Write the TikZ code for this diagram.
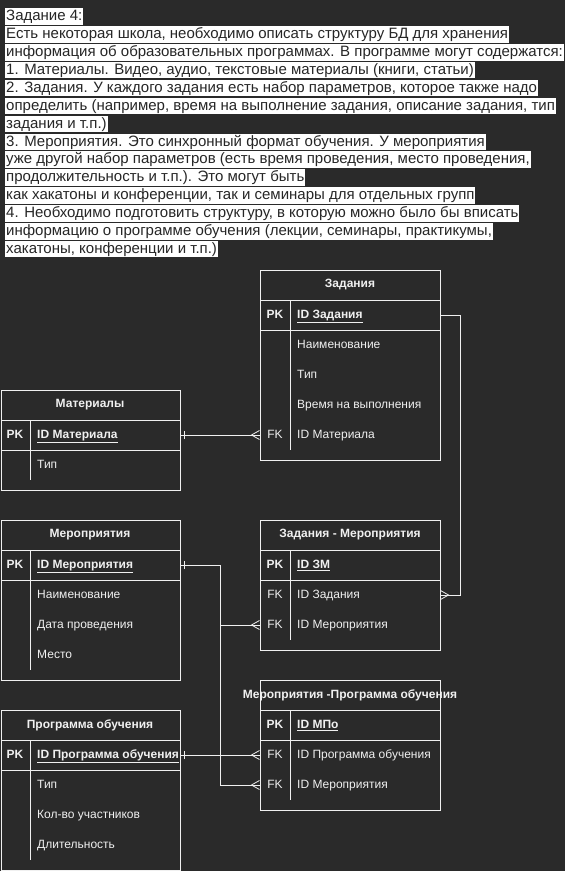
\documentclass[tikz,border=0pt]{standalone}
\usepackage{fontspec}
\setmainfont{Liberation Sans}
\usepackage{tikz}
\usetikzlibrary{calc}
\usetikzlibrary{decorations.markings}
\definecolor{bg}{HTML}{2A2A2A}
\definecolor{fg}{HTML}{F0F0F0}
\definecolor{ink}{HTML}{262626}

\begin{document}
\begin{tikzpicture}[x=1pt, y=-1pt,
		hl/.style={anchor=west, fill=white, text=ink, inner xsep=1pt, inner ysep=0pt, text height=12.5pt, text depth=4pt, font=\fontsize{15}{18}\selectfont},
		tbl/.style={draw=fg, fill=bg, line width=1pt, minimum width=180pt, inner sep=0pt},
		sep/.style={draw=fg, line width=1pt},
		ttl/.style={text=fg, inner sep=0pt, font=\bfseries\fontsize{12}{14}\selectfont},
		key/.style={text=fg, inner sep=0pt, text height=9pt, text depth=2.5pt, font=\fontsize{12}{14}\selectfont},
		pkey/.style={key, font=\bfseries\fontsize{12}{14}\selectfont},
		fld/.style={key, anchor=west},
		pfld/.style={pkey, anchor=west},
		link/.style={draw=fg, line width=1pt},
		one/.style={postaction={decorate, decoration={markings, mark=at position 4pt with {\draw[fg, line width=1pt] (0,-4pt) -- (0,4pt);}}}},
		crow/.style={postaction={decorate, decoration={markings, mark=at position 0.9999 with {\draw[fg, line width=0.8pt] (0,-4.5pt) -- (-8pt,0) -- (0,4.5pt);}}}}]

		% page
		\fill[bg] (0,0) rectangle (565,871);
		\useasboundingbox (0,0) rectangle (565,871);

		% task text
		\node[hl] (t1) at (5,16.5) {Задание 4:};
		\node[hl] (t2) at (5,34.4) {Есть некоторая школа, необходимо описать структуру БД для хранения};
		\node[hl] (t3) at (5,52.3) {информация об образовательных программах. В программе могут содержатся:};
		\node[hl] (t4) at (5,70.2) {1. Материалы. Видео, аудио, текстовые материалы (книги, статьи)};
		\node[hl] (t5) at (5,88.1) {2. Задания. У каждого задания есть набор параметров, которое также надо};
		\node[hl] (t6) at (5,106) {определить (например, время на выполнение задания, описание задания, тип};
		\node[hl] (t7) at (5,123.9) {задания и т.п.)};
		\node[hl] (t8) at (5,141.8) {3. Мероприятия. Это синхронный формат обучения. У мероприятия};
		\node[hl] (t9) at (5,159.7) {уже другой набор параметров (есть время проведения, место проведения,};
		\node[hl] (t10) at (5,177.6) {продолжительность и т.п.). Это могут быть};
		\node[hl] (t11) at (5,195.5) {как хакатоны и конференции, так и семинары для отдельных групп};
		\node[hl] (t12) at (5,213.4) {4. Необходимо подготовить структуру, в которую можно было бы вписать};
		\node[hl] (t13) at (5,231.3) {информацию о программе обучения (лекции, семинары, практикумы,};
		\node[hl] (t14) at (5,249.2) {хакатоны, конференции и т.п.)};

		% Задания
		\node[tbl, minimum height=190pt] (zad) at (350,365) {};
		\draw[sep] (260,300) -- (440,300) (260,330) -- (440,330) (290,300) -- (290,450);
		\node[ttl] (zad-t) at (350,285) {Задания};
		\node[pkey] (zad-k1) at (275,315) {PK};
		\node[pfld] (zad-pk) at (297,315) {\underline{ID Задания}};
		\node[fld] (zad-f1) at (297,345) {Наименование};
		\node[fld] (zad-f2) at (297,375) {Тип};
		\node[fld] (zad-f3) at (297,405) {Время на выполнения};
		\node[key] (zad-k2) at (275,435) {FK};
		\node[fld] (zad-fk) at (297,435) {ID Материала};

		% Материалы
		\node[tbl, minimum width=179pt, minimum height=100pt] (mat) at (90.5,440) {};
		\draw[sep] (1,420) -- (180,420) (1,450) -- (180,450) (30,420) -- (30,480);
		\node[ttl] (mat-t) at (90,405) {Материалы};
		\node[pkey] (mat-k1) at (15,435) {PK};
		\node[pfld] (mat-pk) at (37,435) {\underline{ID Материала}};
		\node[fld] (mat-f1) at (37,465) {Тип};

		% Мероприятия
		\node[tbl, minimum width=179pt, minimum height=160pt] (mer) at (90.5,600) {};
		\draw[sep] (1,550) -- (180,550) (1,580) -- (180,580) (30,550) -- (30,670);
		\node[ttl] (mer-t) at (90,535) {Мероприятия};
		\node[pkey] (mer-k1) at (15,565) {PK};
		\node[pfld] (mer-pk) at (37,565) {\underline{ID Мероприятия}};
		\node[fld] (mer-f1) at (37,595) {Наименование};
		\node[fld] (mer-f2) at (37,625) {Дата проведения};
		\node[fld] (mer-f3) at (37,655) {Место};

		% Задания - Мероприятия
		\node[tbl, minimum height=130pt] (zm) at (350,585) {};
		\draw[sep] (260,550) -- (440,550) (260,580) -- (440,580) (290,550) -- (290,640);
		\node[ttl] (zm-t) at (350,535) {Задания - Мероприятия};
		\node[pkey] (zm-k1) at (275,565) {PK};
		\node[pfld] (zm-pk) at (297,565) {\underline{ID ЗМ}};
		\node[key] (zm-k2) at (275,595) {FK};
		\node[fld] (zm-fk1) at (297,595) {ID Задания};
		\node[key] (zm-k3) at (275,625) {FK};
		\node[fld] (zm-fk2) at (297,625) {ID Мероприятия};

		% Мероприятия -Программа обучения
		\node[tbl, minimum height=130pt] (mpo) at (350,745) {};
		\draw[sep] (260,710) -- (440,710) (260,740) -- (440,740) (290,710) -- (290,800);
		\node[ttl] (mpo-t) at (350,695) {Мероприятия -Программа обучения};
		\node[pkey] (mpo-k1) at (275,725) {PK};
		\node[pfld] (mpo-pk) at (297,725) {\underline{ID МПо}};
		\node[key] (mpo-k2) at (275,755) {FK};
		\node[fld] (mpo-fk1) at (297,755) {ID Программа обучения};
		\node[key] (mpo-k3) at (275,785) {FK};
		\node[fld] (mpo-fk2) at (297,785) {ID Мероприятия};

		% Программа обучения
		\node[tbl, minimum width=179pt, minimum height=160pt] (prg) at (90.5,790) {};
		\draw[sep] (1,740) -- (180,740) (1,770) -- (180,770) (30,740) -- (30,860);
		\node[ttl] (prg-t) at (90,725) {Программа обучения};
		\node[pkey] (prg-k1) at (15,755) {PK};
		\node[pfld] (prg-pk) at (37,755) {\underline{ID Программа обучения}};
		\node[fld] (prg-f1) at (37,785) {Тип};
		\node[fld] (prg-f2) at (37,815) {Кол-во участников};
		\node[fld] (prg-f3) at (37,845) {Длительность};

		% relations
		\draw[link, one, crow] (mat.east |- mat-pk) -- (zad.west |- zad-fk);
		\draw[link, crow] (zad.east |- zad-pk) -- ++(20,0) |- (zm.east |- zm-fk1);
		\draw[link, one, crow] (mer.east |- mer-pk) -- ++(40,0) |- (zm.west |- zm-fk2);
		\draw[link, crow] (mer.east |- mer-pk) -- ++(40,0) |- (mpo.west |- mpo-fk2);
		\draw[link, one, crow] (prg.east |- prg-pk) -- (mpo.west |- mpo-fk1);
	\end{tikzpicture}
\end{document}
